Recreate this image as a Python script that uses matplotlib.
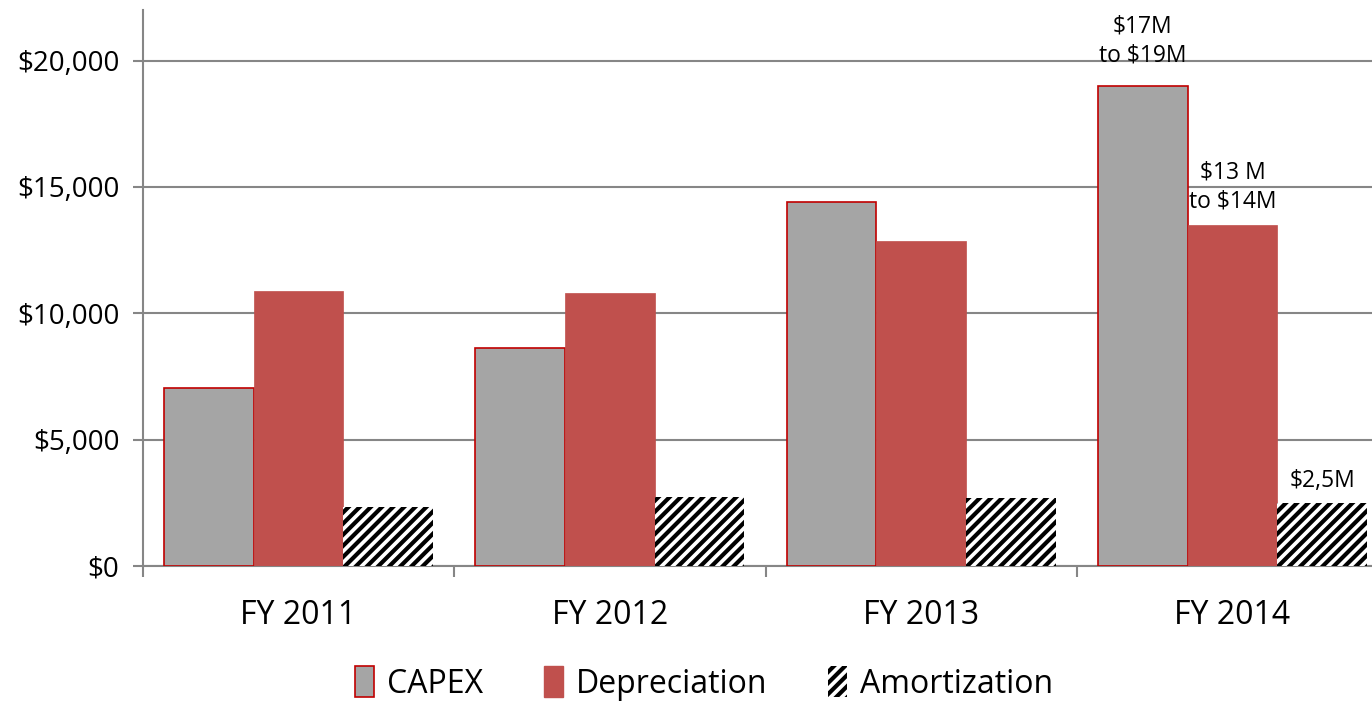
import matplotlib
matplotlib.use("Agg")
import matplotlib.pyplot as plt
import numpy as np
from matplotlib.patches import Patch
from matplotlib.ticker import FuncFormatter

# Данные графика
years = ["FY 2011", "FY 2012", "FY 2013", "FY 2014"]
capex = [7050, 8630, 14400, 19000]
depreciation = [10900, 10800, 12870, 13500]
amortization = [2350, 2750, 2700, 2500]
series_names = ["CAPEX", "Depreciation", "Amortization"]
notes_2014 = ["$17M\nto $19M", "$13 M\nto $14M", "$2,5M"]

plt.rcParams['font.family'] = ['Open Sans', 'DejaVu Sans']
plt.rcParams['hatch.linewidth'] = 3.0
plt.rcParams['hatch.color'] = 'black'

grey = '#A5A5A5'
red = '#C0504D'
edge_red = '#C00000'
axis_grey = '#868686'

fig = plt.figure(figsize=(13.72, 7.04), dpi=100)
ax = fig.add_axes([0.1042, 0.196, 0.8958, 0.7898])

x = np.arange(len(years))
w = 0.288

b1 = ax.bar(x - w, capex, w, color=grey, edgecolor=edge_red, linewidth=1.2, zorder=3)
b2 = ax.bar(x, depreciation, w, color=red, edgecolor=red, linewidth=0.5, zorder=3)
b3 = ax.bar(x + w, amortization, w, color='white', edgecolor='black', linewidth=0,
            hatch='///', zorder=3)

# Подписи над столбцами 2014 года
last = len(years) - 1
offsets = [13, 8, 7]
for bars, text, off in zip([b1, b2, b3], notes_2014, offsets):
    bar = bars[last]
    ax.annotate(text, (bar.get_x() + bar.get_width() / 2, bar.get_height()),
                xytext=(0, off), textcoords='offset points', ha='center', va='bottom',
                fontsize=16.5, linespacing=1.3, annotation_clip=False)

ax.set_yticks(np.arange(0, 20001, 5000))
ax.yaxis.set_major_formatter(FuncFormatter(lambda v, p: f"${v:,.0f}"))
ax.set_xticks(x)
ax.set_xticklabels(years, family=['Liberation Sans Narrow', 'Open Sans'], fontsize=23)
ax.set_xticks(np.arange(-0.5, len(years), 1), minor=True)
# пределы после тиков, иначе set_xticks расширит ось
ax.set_xlim(-0.5, -0.5 + (1372 - 143) / 311.3)
ax.set_ylim(0, 22000)

ax.tick_params(axis='y', direction='out', length=7, width=1.5, color=axis_grey,
               labelsize=20, pad=10)
ax.tick_params(axis='x', which='major', length=0, pad=24)
ax.tick_params(axis='x', which='minor', direction='out', length=8, width=1.5, color=axis_grey)

ax.grid(axis='y', color=axis_grey, linewidth=1.5, zorder=0)
ax.set_axisbelow(True)
for s in ['top', 'right']:
    ax.spines[s].set_visible(False)
for s in ['left', 'bottom']:
    ax.spines[s].set_color(axis_grey)
    ax.spines[s].set_linewidth(1.5)

handles = [Patch(facecolor=grey, edgecolor=edge_red, linewidth=1.2),
           Patch(facecolor=red, edgecolor=red),
           Patch(facecolor='white', edgecolor='black', linewidth=0, hatch='///')]
fig.legend(handles, series_names, loc='lower center', bbox_to_anchor=(0.513, -0.036),
           ncol=3, frameon=False, handlelength=0.6, handleheight=1.1, handletextpad=0.4,
           columnspacing=1.9, prop={'family': ['Liberation Sans Narrow', 'Open Sans'], 'size': 23})

fig.savefig("out.png", dpi=100)
